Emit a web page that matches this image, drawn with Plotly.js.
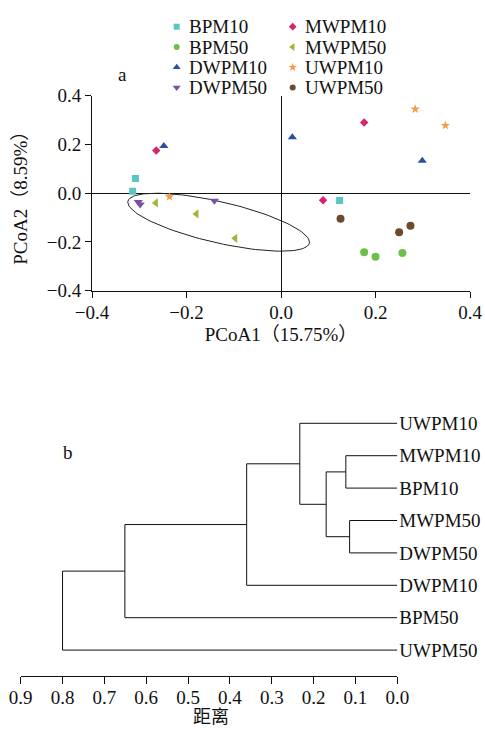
<!DOCTYPE html>
<html>
<head>
<meta charset="utf-8">
<script src="https://cdn.plot.ly/plotly-3.0.1.min.js"></script>
<style>html,body{margin:0;padding:0;background:#fff}#chart{width:485px;height:729px}</style>
</head>
<body>
<div id="chart"></div>
<script>
// ---------- Data: PCoA (panel a) ----------
const groups  = ['BPM10','BPM50','DWPM10','DWPM50','MWPM10','MWPM50','UWPM10','UWPM50'];
const BPM10_x  = [-0.308, -0.314, 0.124];  const BPM10_y  = [0.060, 0.008, -0.030];
const BPM50_x  = [0.176, 0.200, 0.257];    const BPM50_y  = [-0.242, -0.261, -0.245];
const DWPM10_x = [-0.248, 0.024, 0.299];   const DWPM10_y = [0.194, 0.230, 0.133];
const DWPM50_x = [-0.302, -0.298, -0.141]; const DWPM50_y = [-0.036, -0.046, -0.031];
const MWPM10_x = [-0.264, 0.176, 0.089];   const MWPM10_y = [0.175, 0.290, -0.029];
const MWPM50_x = [-0.265, -0.179, -0.097]; const MWPM50_y = [-0.040, -0.085, -0.185];
const UWPM10_x = [-0.236, 0.284, 0.348];   const UWPM10_y = [-0.015, 0.345, 0.278];
const UWPM50_x = [0.126, 0.274, 0.250];    const UWPM50_y = [-0.105, -0.134, -0.160];
const pcoaTicks = [-0.4, -0.2, 0.0, 0.2, 0.4];
// confidence ellipse: centre and two conjugate semi-axis vectors (data units)
const ellipseCenter = [-0.132, -0.119];
const ellipseAxis1  = [0.192, -0.086];
const ellipseAxis2  = [-0.010, -0.082];

// ---------- Data: clustering (panel b) ----------
const leafOrder = ['UWPM10','MWPM10','BPM10','MWPM50','DWPM50','DWPM10','BPM50','UWPM50'];
const mergeA    = ['MWPM10','MWPM50','C1','UWPM10','C4','C5','C6'];
const mergeB    = ['BPM10','DWPM50','C2','C3','DWPM10','BPM50','UWPM50'];
const mergeDist = [0.123, 0.114, 0.170, 0.233, 0.360, 0.651, 0.800];
const distTicks = [0.9, 0.8, 0.7, 0.6, 0.5, 0.4, 0.3, 0.2, 0.1, 0.0];

// ---------- Styles ----------
const FONT = 'Liberation Serif, Noto Sans CJK SC, serif';
const styles = {
  BPM10:  {color:'#5bc5c2', symbol:'square',        size:7,   leg:6},
  BPM50:  {color:'#6cc04a', symbol:'circle',        size:8,   leg:6},
  DWPM10: {color:'#2a4fa0', symbol:'triangle-up',   size:8,   leg:7},
  DWPM50: {color:'#7b4fa8', symbol:'triangle-down', size:8,   leg:7},
  MWPM10: {color:'#d6246e', symbol:'diamond',       size:6.5, leg:6},
  MWPM50: {color:'#9ab83a', symbol:'triangle-left', size:8,   leg:7},
  UWPM10: {color:'#f39b3f', symbol:'star',          size:7,   leg:6.5},
  UWPM50: {color:'#6b4a2e', symbol:'circle',        size:8,   leg:6}
};
const seriesX = {BPM10:BPM10_x,BPM50:BPM50_x,DWPM10:DWPM10_x,DWPM50:DWPM50_x,MWPM10:MWPM10_x,MWPM50:MWPM50_x,UWPM10:UWPM10_x,UWPM50:UWPM50_x};
const seriesY = {BPM10:BPM10_y,BPM50:BPM50_y,DWPM10:DWPM10_y,DWPM50:DWPM50_y,MWPM10:MWPM10_y,MWPM50:MWPM50_y,UWPM10:UWPM10_y,UWPM50:UWPM50_y};

const W = 485, H = 729;
const px = v => v / W;          // pixel -> paper x
const py = v => 1 - v / H;      // pixel -> paper y

const traces = [];

// ellipse
const ex = [], ey = [];
for (let i = 0; i <= 120; i++) {
  const t = 2 * Math.PI * i / 120;
  ex.push(ellipseCenter[0] + ellipseAxis1[0] * Math.cos(t) + ellipseAxis2[0] * Math.sin(t));
  ey.push(ellipseCenter[1] + ellipseAxis1[1] * Math.cos(t) + ellipseAxis2[1] * Math.sin(t));
}
traces.push({x:ex, y:ey, mode:'lines', line:{color:'#222', width:1}, showlegend:false, hoverinfo:'skip', xaxis:'x', yaxis:'y'});

groups.forEach(g => {
  const s = styles[g];
  traces.push({
    x: seriesX[g], y: seriesY[g], name: g, mode: 'markers', type: 'scatter',
    marker: {color: s.color, symbol: s.symbol, size: s.size, line:{width:0}},
    showlegend: false, xaxis: 'x', yaxis: 'y'
  });
});

// dendrogram
const node = {};
leafOrder.forEach((n, i) => node[n] = {d: 0, y: i});
const dx = [], dy = [];
mergeDist.forEach((h, k) => {
  const a = node[mergeA[k]], b = node[mergeB[k]];
  dx.push(a.d, h, h, b.d, null);
  dy.push(a.y, a.y, b.y, b.y, null);
  node['C' + (k + 1)] = {d: h, y: (a.y + b.y) / 2};
});
traces.push({x:dx, y:dy, mode:'lines', line:{color:'#111', width:1}, showlegend:false, hoverinfo:'skip', xaxis:'x2', yaxis:'y2'});

// legend (two columns, four rows) on an auxiliary pixel axis
const legX0 = 176.7, legColGap = 116, legY0 = 26.7, legRowGap = 20.3, legTextGap = 10.6;
const annotations = [];
groups.forEach((g, i) => {
  const col = Math.floor(i / 4), row = i % 4;
  const s = styles[g];
  const mx = legX0 + col * legColGap, my = legY0 + row * legRowGap;
  traces.push({x:[mx], y:[my], mode:'markers', xaxis:'x3', yaxis:'y3', showlegend:false, hoverinfo:'skip',
    marker:{color:s.color, symbol:s.symbol, size:s.leg, line:{width:0}}});
  annotations.push({xref:'x3', yref:'y3', x: mx + legTextGap, y: my, text: g, showarrow:false,
    xanchor:'left', yanchor:'middle', font:{family:FONT, size:19, color:'#111'}});
});
annotations.push({xref:'paper', yref:'paper', x:px(122.7), y:py(74), text:'a', showarrow:false, xanchor:'center', yanchor:'middle', font:{family:FONT, size:19, color:'#111'}});
annotations.push({xref:'paper', yref:'paper', x:px(68), y:py(452), text:'b', showarrow:false, xanchor:'center', yanchor:'middle', font:{family:FONT, size:19, color:'#111'}});
// dendrogram axis title
annotations.push({xref:'paper', yref:'paper', x:px(211), y:py(716.5), text:'距离', showarrow:false, borderpad:0, xanchor:'center', yanchor:'middle', font:{family:FONT, size:18, color:'#111'}});

const tickFont = {family: FONT, size: 19, color: '#111'};
const layout = {
  width: W, height: H,
  margin: {l:0, r:0, t:0, b:0, pad:0},
  paper_bgcolor: '#fff', plot_bgcolor: 'rgba(0,0,0,0)',
  showlegend: false,
  font: {family: FONT, size: 19, color: '#111'},
  xaxis: {
    domain: [px(92), px(470)], range: [-0.4, 0.4], anchor: 'y',
    tickmode: 'array', tickvals: pcoaTicks, tickformat: '.1f',
    ticks: 'outside', ticklen: 6, tickcolor: '#111', tickwidth: 1,
    showline: true, linecolor: '#111', linewidth: 1, ticklabelstandoff: -2,
    zeroline: true, zerolinecolor: '#111', zerolinewidth: 1, showgrid: false,
    tickfont: tickFont,
    title: {text: 'PCoA1（15.75%）', font: {family: FONT, size: 19, color: '#111'}, standoff: 6}
  },
  yaxis: {
    domain: [py(290.7), py(95.7)], range: [-0.4, 0.4], anchor: 'x',
    tickmode: 'array', tickvals: pcoaTicks, tickformat: '.1f',
    ticks: 'outside', ticklen: 6, tickcolor: '#111', tickwidth: 1,
    showline: true, linecolor: '#111', linewidth: 1,
    zeroline: true, zerolinecolor: '#111', zerolinewidth: 1, showgrid: false,
    tickfont: tickFont,
    title: {text: 'PCoA2（8.59%）', font: {family: FONT, size: 19, color: '#111'}, standoff: 14}
  },
  xaxis2: {
    domain: [px(20.7), px(397.3)], range: [0.9, 0.0], anchor: 'free', position: py(676),
    tickmode: 'array', tickvals: distTicks, tickformat: '.1f',
    ticks: 'outside', ticklen: 7, tickcolor: '#111', tickwidth: 1,
    showline: true, linecolor: '#111', linewidth: 1, ticklabelstandoff: -3,
    zeroline: false, showgrid: false, tickfont: tickFont
  },
  yaxis2: {
    domain: [py(666.3), py(407.1)], range: [7.5, -0.5], anchor: 'x2', side: 'right',
    tickmode: 'array', tickvals: leafOrder.map((_, i) => i), ticktext: leafOrder,
    ticks: '', showline: false, zeroline: false, showgrid: false, tickfont: tickFont,
    ticklabelstandoff: 1
  },
  xaxis3: {domain: [0, 1], range: [0, W], visible: false, anchor: 'y3', fixedrange: true},
  yaxis3: {domain: [0, 1], range: [H, 0], visible: false, anchor: 'x3', fixedrange: true},
  annotations: annotations
};

Plotly.newPlot('chart', traces, layout, {displayModeBar: false, staticPlot: true});
</script>
</body>
</html>
